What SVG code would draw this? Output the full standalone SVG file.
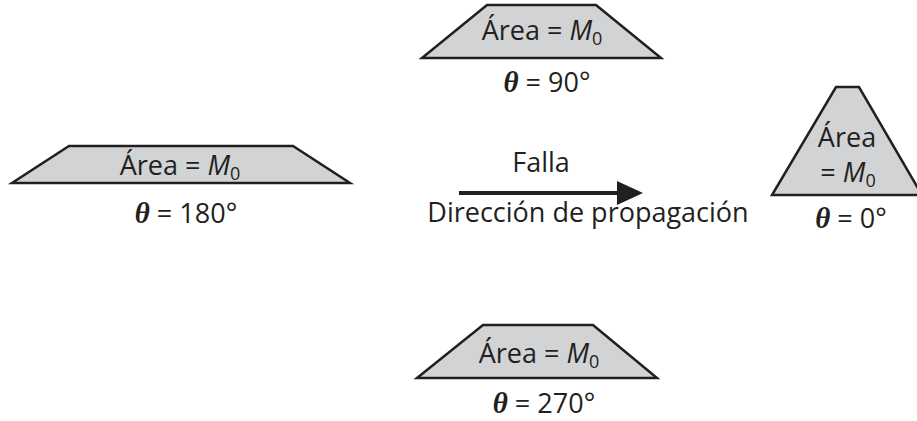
<svg xmlns="http://www.w3.org/2000/svg" width="917" height="421" viewBox="0 0 917 421">
<style>
.shape{fill:#d1d3d4;stroke:#231f20;stroke-width:2.5;stroke-linejoin:miter}
.t{font-family:"Open Sans","Noto Sans",sans-serif;font-size:27px;fill:#231f20;text-anchor:middle}
.it{font-style:italic}
.sub{font-size:18px}
.th{font-family:"Liberation Serif",serif;font-style:italic;font-weight:bold;font-size:29px}
</style>
<defs>
<marker id="ah" markerWidth="7" markerHeight="6" refX="0" refY="3" orient="auto" markerUnits="strokeWidth">
<path d="M0,0 L6.5,3 L0,6 Z" fill="#231f20"/>
</marker>
</defs>
<g id="top">
<polygon class="shape" points="487,5 596,5 661,58 422,58"/>
<text class="t" x="542" y="40">Área = <tspan class="it">M</tspan><tspan class="sub" dy="5">0</tspan></text>
<text class="t" x="547" y="92"><tspan class="th">θ</tspan> = 90°</text>
</g>
<g id="left">
<polygon class="shape" points="69,146 293,146 350,183 12,183"/>
<text class="t" x="180" y="175">Área = <tspan class="it">M</tspan><tspan class="sub" dy="5">0</tspan></text>
<text class="t" x="186" y="223"><tspan class="th">θ</tspan> = 180°</text>
</g>
<g id="right">
<polygon class="shape" points="836,87 859,87 922,195 772,195"/>
<text class="t" x="847" y="147">Área</text>
<text class="t" x="848" y="182">= <tspan class="it">M</tspan><tspan class="sub" dy="5">0</tspan></text>
<text class="t" x="851" y="228"><tspan class="th">θ</tspan> = 0°</text>
</g>
<g id="bottom">
<polygon class="shape" points="483,325 593,325 657,378 417,378"/>
<text class="t" x="539" y="363">Área = <tspan class="it">M</tspan><tspan class="sub" dy="5">0</tspan></text>
<text class="t" x="544" y="413"><tspan class="th">θ</tspan> = 270°</text>
</g>
<g id="connectors">
<line x1="459" y1="193" x2="617" y2="193" stroke="#231f20" stroke-width="4" marker-end="url(#ah)"/>
<text class="t" x="541" y="172">Falla</text>
<text class="t" x="588" y="222">Dirección de propagación</text>
</g>
</svg>
